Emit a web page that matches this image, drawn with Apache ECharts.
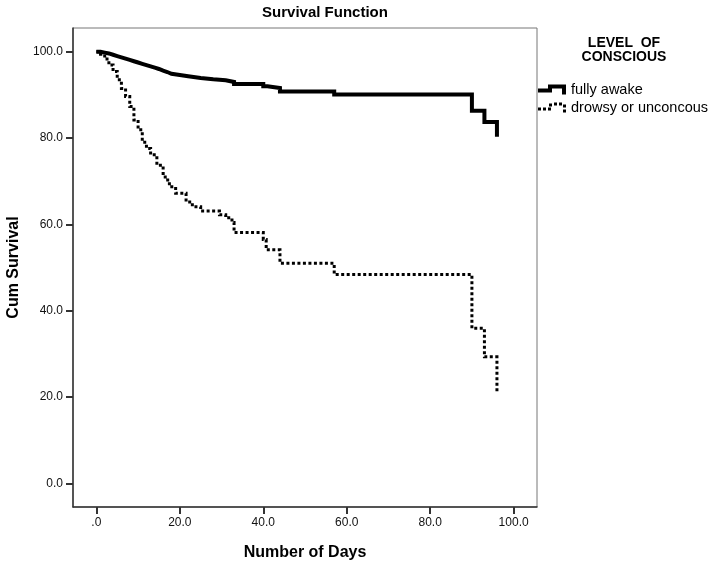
<!DOCTYPE html>
<html>
<head>
<meta charset="utf-8">
<script src="https://cdn.jsdelivr.net/npm/echarts@6/dist/echarts.min.js"></script>
<style>html,body{margin:0;padding:0;background:#fff}#c{width:720px;height:569px}</style>
</head>
<body>
<div id="c"></div>
<script>
const chartTitle = 'Survival Function';
const legendTitle = 'LEVEL  OF\nCONSCIOUS';
const xAxisName = 'Number of Days';
const yAxisName = 'Cum Survival';
const seriesNames = ['fully awake', 'drowsy or unconcous'];

const xTickValues = [0, 20, 40, 60, 80, 100];
const xTickLabels = ['.0', '20.0', '40.0', '60.0', '80.0', '100.0'];
const yTickValues = [0, 20, 40, 60, 80, 100];
const yTickLabels = ['0.0', '20.0', '40.0', '60.0', '80.0', '100.0'];

const daysAwake = [0,1,2,3,4,5,6,7,8,9,10,11,12,13,14,15,16,17,18,20,22,25,28,31,33,40,41,44,57,90,93,96];
const survAwake = [100,99.8,99.6,99.3,99.0,98.7,98.4,98.1,97.8,97.5,97.2,96.9,96.6,96.3,96.0,95.6,95.3,94.9,94.6,94.3,93.9,93.6,93.4,93.0,92.5,92.0,91.6,90.8,90.1,86.3,83.7,80.3];

const daysDrowsy = [0,1,2,3,4,5,6,7,8,9,10,11,12,13,14.5,16,16.5,17.5,19,21.5,23,25,29.5,31,32.5,33,40,40.7,44,57,90,93,96];
const survDrowsy = [100,99.4,98.3,96.9,95.4,93.5,91.5,89.6,87.3,84.2,81.9,79.0,77.6,76.1,73.7,71.8,70.3,68.7,67.2,65.2,64.1,63.1,62.2,61.5,60.4,58.1,56.5,54.1,51.0,48.4,35.9,29.3,21.2];

const FONT = '"Liberation Sans", Arial, sans-serif';
const zip = (a, b) => a.map((v, i) => [v, b[i]]);

const chart = echarts.init(document.getElementById('c'), null, {renderer: 'canvas'});
chart.setOption({
  animation: false,
  backgroundColor: '#fff',
  textStyle: {fontFamily: FONT},
  graphic: [
    {type: 'text', x: 325, y: 13, style: {text: chartTitle, font: 'bold 15px ' + FONT, fill: '#000', textAlign: 'center', textVerticalAlign: 'middle'}},
    {type: 'text', x: 624, y: 36, style: {text: legendTitle, font: 'bold 14px ' + FONT, fill: '#000', textAlign: 'center', textVerticalAlign: 'top', lineHeight: 14}}
  ],
  legend: {
    orient: 'vertical', left: 533, top: 77, itemWidth: 28, itemHeight: 10, itemGap: 3,
    selectedMode: false,
    textStyle: {fontSize: 14.5, color: '#000', fontFamily: FONT},
    data: [
      {name: seriesNames[0], icon: 'path://M0,4L10,4L10,0L28,0L28,10L24,10L24,4L14,4L14,8L0,8Z', itemStyle: {color: '#000', borderWidth: 0}},
      {name: seriesNames[1], icon: 'path://M0,5h3v3h-3zM5,5h3v3h-3zM10,5h3v3h-3zM11,1h3v3h-3zM16,0h3v3h-3zM21,0h3v3h-3zM25,2h3v3h-3zM25,7h3v3h-3z', itemStyle: {color: '#000', borderWidth: 0}}
    ]
  },
  grid: {left: 73, right: 183, top: 28, bottom: 62, show: true, borderColor: '#777', borderWidth: 1, outerBoundsMode: 'none'},
  xAxis: {
    type: 'value', min: -5.6, max: 105.6,
    name: xAxisName, nameLocation: 'middle', nameGap: 38,
    nameTextStyle: {fontSize: 16, fontWeight: 'bold', color: '#000', fontFamily: FONT},
    axisLine: {show: true, onZero: false, lineStyle: {color: '#333', width: 1.5}},
    axisTick: {show: true, customValues: xTickValues, length: 7, lineStyle: {color: '#333', width: 2}},
    axisLabel: {customValues: xTickValues, formatter: v => xTickLabels[xTickValues.indexOf(v)], fontSize: 12, color: '#111', margin: 10, fontFamily: FONT},
    splitLine: {show: false}
  },
  yAxis: {
    type: 'value', min: -5.5, max: 105.5,
    name: yAxisName, nameLocation: 'middle', nameGap: 44, nameRotate: 90,
    nameTextStyle: {fontSize: 16, fontWeight: 'bold', color: '#000', fontFamily: FONT},
    axisLine: {show: true, onZero: false, lineStyle: {color: '#333', width: 1.5}},
    axisTick: {show: true, customValues: yTickValues, length: 7, lineStyle: {color: '#333', width: 2}},
    axisLabel: {customValues: yTickValues, formatter: v => yTickLabels[yTickValues.indexOf(v)], fontSize: 12, color: '#111', margin: 10, fontFamily: FONT},
    splitLine: {show: false}
  },
  series: [
    {
      name: seriesNames[1], type: 'line', step: 'end', symbol: 'none', z: 2,
      data: zip(daysDrowsy, survDrowsy),
      itemStyle: {color: '#000'},
      lineStyle: {color: '#000', width: 3, type: [3, 2.5], cap: 'butt', join: 'miter'}
    },
    {
      name: seriesNames[0], type: 'line', step: 'end', symbol: 'none', z: 3,
      data: zip(daysAwake, survAwake),
      itemStyle: {color: '#000'},
      lineStyle: {color: '#000', width: 4, cap: 'butt', join: 'miter'}
    }
  ]
});
</script>
</body>
</html>
